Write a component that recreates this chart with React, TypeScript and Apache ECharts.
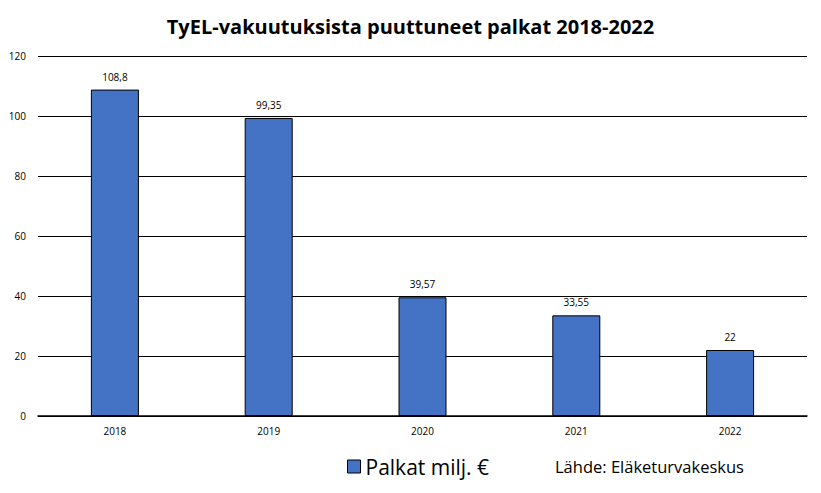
import React, { useEffect, useRef } from "react";
import * as echarts from "echarts";

const categories = ["2018", "2019", "2020", "2021", "2022"];
const values = [108.8, 99.35, 39.57, 33.55, 22];
const seriesName = "Palkat milj. €";
const titleText = "TyEL-vakuutuksista puuttuneet palkat 2018-2022";
const sourceText = "Lähde: Eläketurvakeskus";

const FONT = "'Open Sans', 'Noto Sans', sans-serif";

export default function App() {
  const ref = useRef<HTMLDivElement>(null);
  useEffect(() => {
    const chart = echarts.init(ref.current!, null, { renderer: "svg" });
    chart.setOption({
      animation: false,
      backgroundColor: "#ffffff",
      title: {
        text: titleText,
        left: "center",
        top: 11,
        textStyle: { fontFamily: FONT, fontSize: 20, fontWeight: "bold", color: "#000" },
      },
      legend: {
        data: [seriesName],
        left: 342,
        top: 451,
        icon: "rect",
        itemWidth: 13,
        itemHeight: 13,
        itemGap: 8,
        textStyle: { fontFamily: FONT, fontSize: 21, color: "#000" },
        itemStyle: { borderColor: "#000", borderWidth: 1 },
      },
      graphic: [
        {
          type: "text",
          left: 555,
          top: 458,
          style: { text: sourceText, fontFamily: FONT, fontSize: 16.5, fill: "#000" },
        },
      ],
      grid: { left: 38, right: 14, top: 56, bottom: 77, containLabel: false },
      xAxis: {
        type: "category",
        data: categories,
        axisTick: { show: false },
        axisLine: { lineStyle: { color: "#000", width: 1.5 } },
        axisLabel: { fontFamily: FONT, fontSize: 10, color: "#000", margin: 10 },
      },
      yAxis: {
        type: "value",
        min: 0,
        max: 120,
        interval: 20,
        axisLine: { show: false },
        axisTick: { show: false },
        splitLine: { lineStyle: { color: "#000", width: 1 } },
        axisLabel: { fontFamily: FONT, fontSize: 10, color: "#000", margin: 12 },
      },
      series: [
        {
          name: seriesName,
          type: "bar",
          data: values,
          barWidth: 48,
          itemStyle: { color: "#4472C4", borderColor: "#000", borderWidth: 1 },
          label: {
            show: true,
            position: "top",
            distance: 8,
            fontFamily: FONT,
            fontSize: 10,
            color: "#000",
            formatter: (p: any) => String(p.value).replace(".", ","),
          },
        },
      ],
    });
    return () => chart.dispose();
  }, []);
  return (
    <div
      ref={ref}
      style={{ position: "absolute", left: 0, top: 0, width: 821, height: 493 }}
    />
  );
}
